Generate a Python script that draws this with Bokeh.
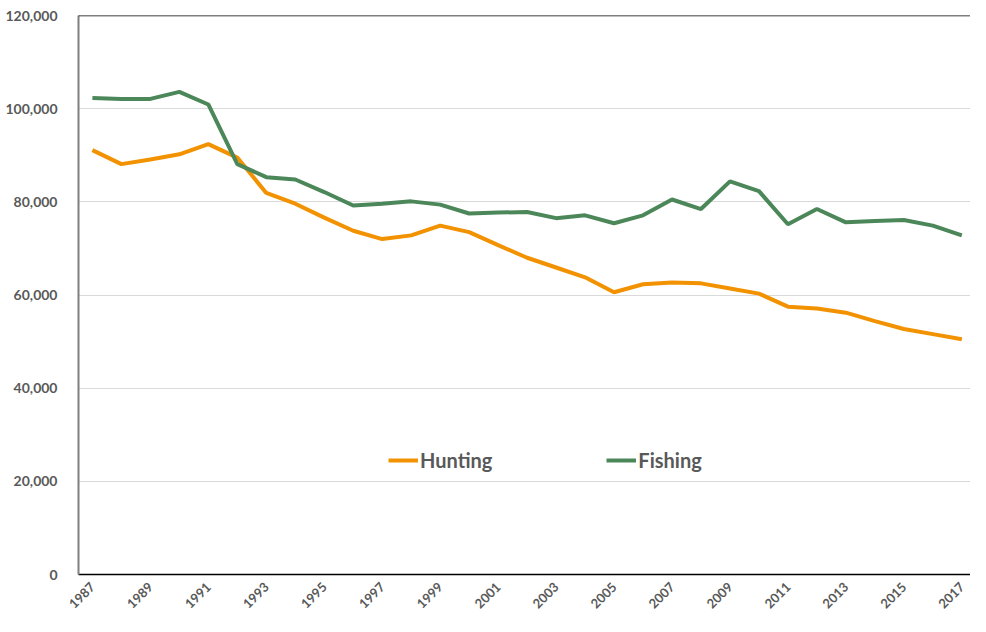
import math
from bokeh.plotting import figure
from bokeh.models import FixedTicker, Span, Legend, LegendItem, NumeralTickFormatter, Range1d
from bokeh.embed import file_html
from bokeh.resources import INLINE

years = list(range(1987, 2018))
hunting = [91100, 88100, 89100, 90200, 92400, 89500, 81900, 79600, 76600, 73800,
           72000, 72800, 74900, 73500, 70700, 68000, 65900, 63800, 60600, 62300,
           62700, 62500, 61400, 60300, 57500, 57100, 56200, 54400, 52700, 51600, 50500]
fishing = [102300, 102100, 102100, 103600, 100900, 88100, 85300, 84800, 82100, 79200,
           79600, 80100, 79400, 77500, 77700, 77800, 76500, 77100, 75400, 77100,
           80500, 78450, 84400, 82300, 75200, 78450, 75600, 75900, 76100, 74900, 72800]
tick_years = list(range(1987, 2018, 2))
y_ticks = [0, 20000, 40000, 60000, 80000, 100000, 120000]

ORANGE = "#f29200"
GREEN = "#4c875a"
GRAY = "#595959"
FONT = "Lato"

p = figure(width=970, height=616, output_backend="svg", toolbar_location=None,
           x_range=Range1d(1986.52, 2017.3), y_range=Range1d(0, 120000),
           min_border_left=78, min_border_right=0, min_border_top=15, min_border_bottom=42)
p.outline_line_color = None

r_h = p.line(years, hunting, line_color=ORANGE, line_width=4)
r_f = p.line(years, fishing, line_color=GREEN, line_width=4)

p.add_layout(Span(location=120000, dimension="width", line_color="black", line_width=1.5))

p.xgrid.grid_line_color = None
p.ygrid.grid_line_color = "#d9d9d9"
p.ygrid.grid_line_width = 1
p.yaxis.ticker = FixedTicker(ticks=y_ticks)
p.yaxis.formatter = NumeralTickFormatter(format="0,0")
p.xaxis.ticker = FixedTicker(ticks=tick_years)

for ax in (p.xaxis, p.yaxis):
    ax.major_tick_line_color = None
    ax.minor_tick_line_color = None
    ax.major_label_text_font = FONT
    ax.major_label_text_font_style = "bold"
    ax.major_label_text_color = GRAY

p.yaxis.axis_line_color = "#7f7f7f"
p.yaxis.axis_line_width = 2
p.yaxis.major_label_text_font_size = "14px"
p.yaxis.major_label_standoff = 15
p.xaxis.axis_line_color = "black"
p.xaxis.axis_line_width = 1.5
p.xaxis.major_label_text_font_size = "13px"
p.xaxis.major_label_orientation = math.pi / 4
p.xaxis.major_label_standoff = 4

legend = Legend(items=[LegendItem(label="Hunting", renderers=[r_h]),
                       LegendItem(label="Fishing", renderers=[r_f])],
                orientation="horizontal", location=(310, 102),
                spacing=114, padding=0, margin=0, glyph_width=30, glyph_height=20,
                label_height=20, label_standoff=2,
                label_text_font=FONT, label_text_font_style="bold",
                label_text_font_size="20px", label_text_color=GRAY,
                border_line_color=None, background_fill_alpha=0)
p.add_layout(legend)

open("out.html", "w").write(file_html(p, INLINE))
